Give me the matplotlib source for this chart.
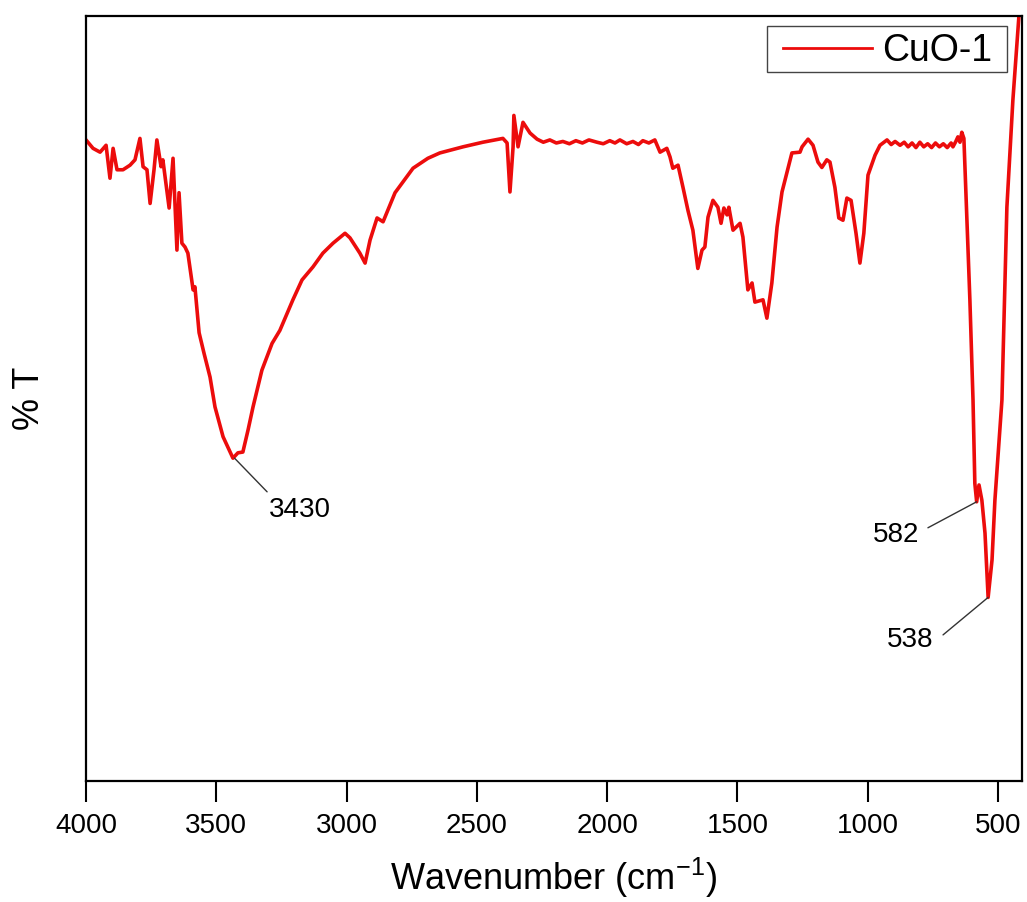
import matplotlib
matplotlib.use("Agg")
import matplotlib.pyplot as plt
from matplotlib.patches import Rectangle

plt.rcParams['font.family'] = ['Liberation Sans', 'DejaVu Sans']

# Wavenumber (cm-1) and transmittance (arbitrary %T units)
wavenumber = [4000, 3973, 3946, 3923, 3908, 3896, 3881, 3858, 3831, 3812,
              3793, 3781, 3766, 3754, 3739, 3728, 3712, 3705, 3681, 3666,
              3651, 3643, 3632, 3620, 3609, 3589, 3582, 3566, 3547, 3524,
              3505, 3474, 3436, 3417, 3398, 3378, 3359, 3325, 3286, 3256,
              3206, 3171, 3129, 3091, 3052, 3006, 2987, 2949, 2929, 2910,
              2883, 2860, 2814, 2745, 2688, 2642, 2553, 2477, 2400, 2384,
              2373, 2361, 2358, 2342, 2323, 2296, 2269,
              2245, 2220, 2195, 2170, 2145, 2120, 2095, 2070, 2039, 2015,
              1990, 1970, 1951, 1925, 1901, 1880, 1863, 1840, 1817,
              1797, 1771, 1759, 1748, 1728, 1709, 1690, 1671, 1652, 1636,
              1625, 1613, 1594, 1575, 1563, 1552, 1540, 1533, 1517, 1490,
              1479, 1460, 1444, 1433, 1402, 1387, 1368, 1348, 1329, 1291,
              1260, 1252, 1229, 1210, 1191, 1176, 1157, 1145, 1126, 1111,
              1095, 1080, 1064, 1045, 1030, 1015, 999, 972, 953, 926,
              910, 895, 876, 860, 845, 830, 815, 800, 785, 770,
              755, 740, 725, 710, 695, 680, 673, 662, 654, 646, 639, 631,
              608, 596, 589, 582, 573, 562, 550, 538, 523, 512,
              485, 466, 443, 420, 405]
transmittance = [83.8, 82.7, 82.2, 83.1, 78.8, 82.7, 79.9, 79.9, 80.5, 81.2,
                 84.0, 80.3, 79.9, 75.5, 79.9, 83.8, 80.3, 81.2, 74.9, 81.4,
                 69.4, 76.9, 70.3, 69.8, 69.0, 64.2, 64.6, 58.6, 55.9, 52.8,
                 48.9, 45.0, 42.2, 42.9, 43.0, 45.9, 48.9, 53.7, 57.2, 58.9,
                 62.9, 65.5, 67.2, 69.0, 70.3, 71.6, 71.0, 69.0, 67.7, 70.7,
                 73.6, 73.1, 76.9, 80.1, 81.4, 82.1, 82.9, 83.5, 84.0, 83.4,
                 77.0, 82.9, 87.0, 82.9, 86.1, 84.7, 83.9,
                 83.5, 83.8, 83.4, 83.6, 83.3, 83.7, 83.4, 83.8, 83.5, 83.3,
                 83.7, 83.4, 83.8, 83.3, 83.6, 83.2, 83.7, 83.4, 83.8,
                 82.2, 82.7, 81.6, 80.1, 80.5, 77.6, 74.6, 72.0, 67.0, 69.4,
                 69.8, 73.7, 75.9, 75.0, 72.9, 74.9, 74.0, 75.0, 72.0, 72.9,
                 71.1, 64.2, 65.1, 62.6, 62.9, 60.5, 65.1, 72.4, 77.0, 82.1,
                 82.2, 82.9, 83.9, 83.1, 80.9, 80.2, 81.2, 80.9, 77.6, 73.6,
                 73.3, 76.2, 75.9, 71.6, 67.7, 71.6, 79.2, 81.8, 83.1, 83.8,
                 83.2, 83.6, 83.1, 83.5, 82.9, 83.4, 82.8, 83.5, 82.9, 83.3,
                 82.8, 83.4, 82.9, 83.3, 82.8, 83.4, 82.9, 83.6, 84.2, 83.5, 84.8, 84.0,
                 62.9, 49.8, 38.9, 36.5, 38.7, 36.7, 32.4, 24.0, 28.9, 36.7,
                 49.8, 75.0, 89.0, 99.9, 103.4]

series_label = "CuO-1"
peak_labels = ["3430", "582", "538"]
peak_positions = [3430, 582, 538]
peak_values = [42.2, 36.5, 24.0]
leader_ends = [(3305, 37.8), (769, 33.1), (711, 19.1)]
label_positions = [(3179, 35.4), (892, 32.2), (838, 18.4)]
x_ticks = [4000, 3500, 3000, 2500, 2000, 1500, 1000, 500]

fig = plt.figure(figsize=(10.27, 9.02), dpi=100)
ax = fig.add_axes([86/1027, 1 - 781/902, 936/1027, 765/902])

ax.plot(wavenumber, transmittance, color='#ec0c0c', lw=2.6, label=series_label)

for lab, px, pv, (lx, ly), (tx, ty) in zip(peak_labels, peak_positions, peak_values,
                                           leader_ends, label_positions):
    ax.annotate('', xy=(px, pv), xytext=(lx, ly),
                arrowprops=dict(arrowstyle='-', color='#333333', lw=1.0,
                                shrinkA=0, shrinkB=0))
    ax.text(tx, ty, lab, fontsize=20, ha='center', va='center')

ax.set_xlim(4000, 408)
ax.set_ylim(0, 100)
ax.set_xticks(x_ticks)
ax.set_xticklabels([str(t) for t in x_ticks])
ax.set_yticks([])
ax.tick_params(axis='x', direction='out', length=15, width=1.5, labelsize=20, pad=8)
for s in ax.spines.values():
    s.set_linewidth(1.6)

ax.set_xlabel("Wavenumber (cm$^{\\mathregular{-1}}$)", fontsize=26, labelpad=12)
ax.set_ylabel("% T", fontsize=26, labelpad=28)

leg = ax.legend(loc='upper right', bbox_to_anchor=(0.968, 0.978), borderaxespad=0,
                fontsize=27, handlelength=2.37, frameon=False,
                borderpad=0, handletextpad=0.27)
for line in leg.get_lines():
    line.set_linewidth(2.0)
ax.add_patch(Rectangle((0.7276, 0.9268), 0.2564, 0.0601, transform=ax.transAxes,
                       fill=False, edgecolor='#444444', lw=1.0, zorder=5))

fig.savefig("out.png", dpi=100)
